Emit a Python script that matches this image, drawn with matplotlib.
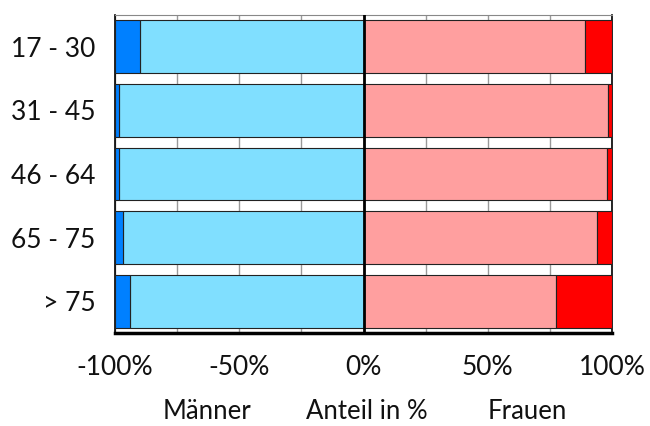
import matplotlib.pyplot as plt
from matplotlib.ticker import MultipleLocator, FuncFormatter

# Altersgruppen und Anteile in %
groups = ["17 - 30", "31 - 45", "46 - 64", "65 - 75", "> 75"]
men_dark = [10, 1.5, 1.5, 3, 6]
men_light = [90, 98.5, 98.5, 97, 94]
women_light = [89, 98.5, 98, 94, 77.5]
women_dark = [11, 1.5, 2, 6, 22.5]

plt.rcParams['font.family'] = ['Lato', 'DejaVu Sans']

fig = plt.figure(figsize=(6.5, 4.26), dpi=100)
ax = fig.add_axes([0.177, 0.218, 0.7645, 0.747])

y = list(range(len(groups)))
h = 0.83
edge = dict(edgecolor='#222222', linewidth=0.8, height=h, zorder=3)

# Männer nach links (negativ)
ax.barh(y, [-v for v in men_light], color='#80DFFF', **edge)
ax.barh(y, [-v for v in men_dark], left=[-v for v in men_light],
        color='#0080FF', **edge)
# Frauen nach rechts
ax.barh(y, women_light, color='#FF9F9F', **edge)
ax.barh(y, women_dark, left=women_light, color='#FF0000', **edge)

ax.axvline(0, color='black', linewidth=2, zorder=4)

ax.set_xlim(-100, 100)
ax.set_ylim(len(groups) - 0.5, -0.5)
ax.set_yticks(y)
ax.set_yticklabels(groups)
ax.xaxis.set_major_locator(MultipleLocator(50))
ax.xaxis.set_minor_locator(MultipleLocator(25))
ax.xaxis.set_major_formatter(FuncFormatter(lambda v, p: f"{v:.0f}%"))
ax.tick_params(axis='both', which='both', length=0, labelsize=19,
               colors='#111111')
ax.tick_params(axis='x', pad=16)
ax.tick_params(axis='y', pad=14)
ax.grid(True, axis='x', which='both', color='#999999', linewidth=1, zorder=0)

for s in ['left', 'right']:
    ax.spines[s].set_linewidth(1.2)
ax.spines['top'].set_color('#888888')
ax.spines['bottom'].set_linewidth(2.5)

# Achsenbeschriftung in drei Teilen
for xv, txt in [(-63, "Männer"), (1.5, "Anteil in %"), (66, "Frauen")]:
    ax.text(xv, -0.245, txt, transform=ax.get_xaxis_transform(),
            ha='center', va='center', fontsize=18.5, color='#111111')

fig.savefig("out.png", dpi=100)
